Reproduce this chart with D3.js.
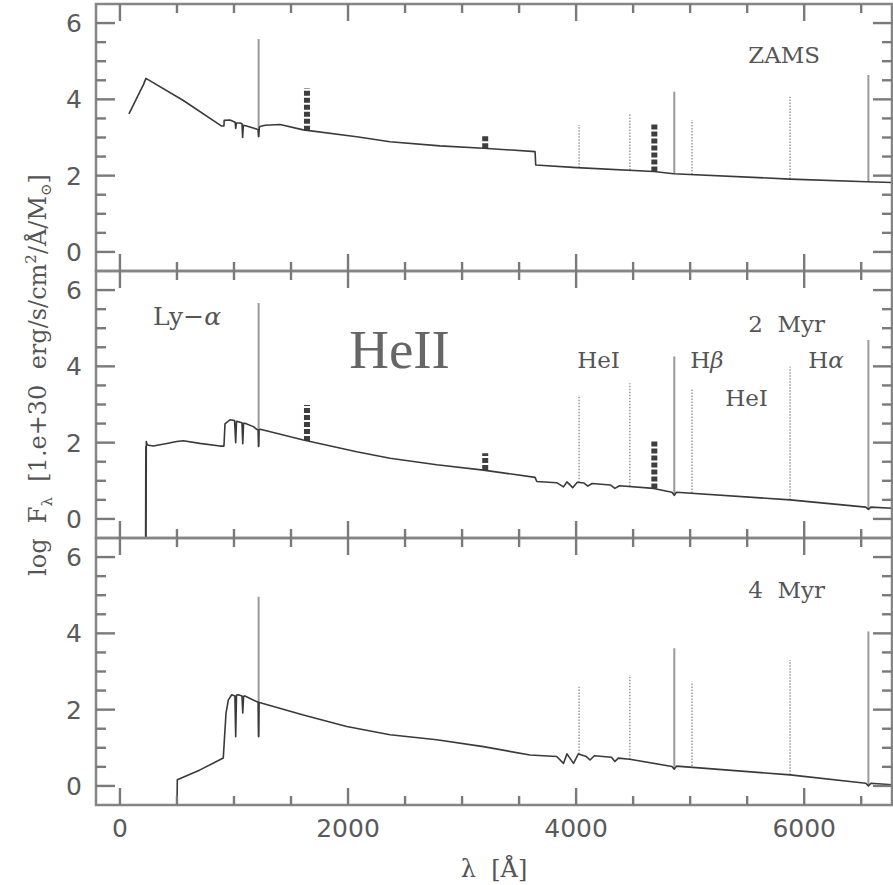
<!DOCTYPE html>
<html>
<head>
<meta charset="utf-8">
<script src="https://cdn.jsdelivr.net/npm/d3@7"></script>
<style>
  body { margin: 0; background: #fff; }
</style>
</head>
<body>
<script>
// ---- axis ticks -------------------------------------------------------
const xMajorTicks = [0, 2000, 4000, 6000];
const xTickLabels = ["0", "2000", "4000", "6000"];
const xMinorTicks = [500, 1000, 1500, 2500, 3000, 3500, 4500, 5000, 5500, 6500];
const yMajorTicks = [0, 2, 4, 6];
const yTickLabels = ["0", "2", "4", "6"];
const yMinorTicks = [0.5, 1, 1.5, 2.5, 3, 3.5, 4.5, 5, 5.5];

// ---- panels -----------------------------------------------------------
const panelNames = ["ZAMS", "2 Myr", "4 Myr"];

// continuum + absorption, [wavelength (Å), log F]
const zamsSpectrum = [
  [79, 3.62], [117, 3.85], [161, 4.12], [205, 4.38], [228, 4.55], [556, 3.97],
  [892, 3.30], [912, 3.30], [914, 3.45], [965, 3.46], [1010, 3.40], [1015, 3.24],
  [1022, 3.38], [1053, 3.38], [1070, 3.36], [1076, 3.00], [1082, 3.32], [1111, 3.30],
  [1199, 3.22], [1212, 3.20], [1216, 3.02], [1222, 3.26], [1228, 3.29], [1272, 3.32],
  [1404, 3.34], [1608, 3.20], [2076, 3.02], [2368, 2.89], [2807, 2.78], [3187, 2.72],
  [3640, 2.63], [3646, 2.28], [4006, 2.21], [4680, 2.11], [4855, 2.05], [5877, 1.91],
  [6550, 1.84], [6770, 1.82]
];
const myr2Spectrum = [
  [225, -0.6], [227, 1.9], [229, -0.6], [231, 2.03], [240, 1.94], [292, 1.91],
  [400, 1.97], [497, 2.03], [556, 2.05], [700, 1.98], [877, 1.91], [912, 1.91],
  [921, 2.49], [965, 2.60], [1005, 2.58], [1015, 2.00], [1022, 2.56], [1038, 2.55],
  [1070, 2.52], [1077, 1.97], [1084, 2.51], [1096, 2.51], [1170, 2.42], [1199, 2.35],
  [1212, 2.33], [1216, 1.90], [1220, 2.34], [1231, 2.35], [1608, 2.07], [2076, 1.76],
  [2368, 1.59], [2778, 1.42], [3187, 1.28], [3640, 1.09], [3655, 0.98], [3830, 0.95],
  [3889, 0.84], [3920, 0.97], [3970, 0.82], [4010, 0.96], [4070, 0.94], [4102, 0.86],
  [4140, 0.93], [4300, 0.89], [4340, 0.80], [4380, 0.87], [4680, 0.80], [4840, 0.70],
  [4861, 0.62], [4880, 0.70], [5877, 0.50], [6540, 0.31], [6563, 0.25], [6585, 0.31],
  [6770, 0.28]
];
const myr4Spectrum = [
  [500, -0.6], [503, 0.16], [702, 0.42], [906, 0.73], [930, 1.91], [950, 2.25],
  [980, 2.39], [1008, 2.36], [1015, 1.29], [1022, 2.38], [1038, 2.39], [1070, 2.36],
  [1077, 1.91], [1084, 2.35], [1096, 2.36], [1199, 2.21], [1212, 2.20], [1216, 1.29],
  [1220, 2.19], [1231, 2.18], [1608, 1.86], [1989, 1.56], [2368, 1.34], [2778, 1.21],
  [3187, 1.03], [3596, 0.81], [3830, 0.77], [3889, 0.59], [3920, 0.84], [3977, 0.59],
  [4020, 0.84], [4090, 0.77], [4122, 0.68], [4160, 0.79], [4310, 0.75], [4340, 0.64],
  [4370, 0.73], [4471, 0.70], [4840, 0.51], [4861, 0.44], [4880, 0.52], [5877, 0.29],
  [6540, 0.07], [6563, 0.00], [6585, 0.07], [6770, 0.03]
];

// ---- emission lines ---------------------------------------------------
// kinds: "H" hydrogen, "HeI", "HeII"
const lineWavelengths = [1216, 1640, 3203, 4026, 4471, 4686, 4861, 5016, 5876, 6563];
const lineKinds       = ["H", "HeII", "HeII", "HeI", "HeI", "HeII", "H", "HeI", "HeI", "H"];
const zamsLineBase = [3.02, 3.18, 2.72, 2.21, 2.15, 2.11, 2.05, 2.03, 1.91, 1.84];
const zamsLinePeak = [5.58, 4.29, 3.07, 3.33, 3.64, 3.39, 4.20, 3.46, 4.07, 4.64];
const myr2LineBase = [1.90, 2.04, 1.28, 0.96, 0.86, 0.80, 0.62, 0.68, 0.50, 0.25];
const myr2LinePeak = [5.66, 2.99, 1.72, 3.25, 3.56, 2.07, 4.26, 3.40, 3.99, 4.69];
const myr4LineBase = [1.29, null, null, 0.84, 0.70, null, 0.44, 0.52, 0.29, 0.00];
const myr4LinePeak = [4.96, null, null, 2.60, 2.91, null, 3.61, 2.73, 3.30, 4.05];

// ---- annotations (middle panel) --------------------------------------
const noteTexts   = ["Ly−α", "HeI", "Hβ", "HeI", "Hα"];
const noteLambda  = [289, 4009, 5000, 5307, 6035];
const noteLogF    = [5.09, 3.96, 3.96, 2.96, 3.96];
const bigNoteText = "HeII";
const bigNoteLambda = 2010;
const bigNoteLogF = 3.96;
const panelNameLambda = 5509;
const panelNameLogF = [4.96, 4.90, 4.93];

// ---- drawing ----------------------------------------------------------
const W = 893, H = 885;
const frameColor = "#858585";
const textColor = "#555";

const svg = d3.select("body").append("svg")
  .attr("width", W).attr("height", H);

const xScale = d3.scaleLinear().domain([-210, 6770]).range([96, 892]);
const [xLeft, xRight] = xScale.range();
const panelTops = [4, 271, 538];
const panelH = 267;
const yScales = panelTops.map(top =>
  d3.scaleLinear().domain([-0.5, 6.5]).range([top + panelH, top]));

const spectra = [zamsSpectrum, myr2Spectrum, myr4Spectrum];
const bases = [zamsLineBase, myr2LineBase, myr4LineBase];
const peaks = [zamsLinePeak, myr2LinePeak, myr4LinePeak];

const lineStyle = {
  H:    { stroke: "#9a9a9a", width: 2,   dash: null },
  HeI:  { stroke: "#a0a0a0", width: 1.6, dash: "1.5,1.5" },
  HeII: { stroke: "#3e3e3e", width: 6,   dash: "5,2" }
};

function writeWithGreek(sel, str) {
  // Greek letters set in italic, the rest upright
  str.split(/([α-ω])/).filter(s => s.length).forEach(part => {
    const t = sel.append("tspan").text(part);
    if (/[α-ω]/.test(part)) t.style("font-style", "italic");
  });
}

const defs = svg.append("defs");

panelTops.forEach((top, i) => {
  const bottom = top + panelH;
  const y = yScales[i];
  const g = svg.append("g");

  const clipId = "clip" + i;
  defs.append("clipPath").attr("id", clipId)
    .append("rect").attr("x", xLeft).attr("y", top)
    .attr("width", xRight - xLeft).attr("height", panelH);

  const plot = g.append("g").attr("clip-path", `url(#${clipId})`);

  // emission lines
  lineWavelengths.forEach((lam, j) => {
    if (peaks[i][j] == null) return;
    const st = lineStyle[lineKinds[j]];
    plot.append("line")
      .attr("x1", xScale(lam)).attr("x2", xScale(lam))
      .attr("y1", y(bases[i][j])).attr("y2", y(peaks[i][j]))
      .attr("stroke", st.stroke)
      .attr("stroke-width", st.width)
      .attr("stroke-dasharray", st.dash);
  });

  // spectrum
  plot.append("path")
    .datum(spectra[i])
    .attr("fill", "none")
    .attr("stroke", "#3a3a3a")
    .attr("stroke-width", 1.6)
    .attr("stroke-linejoin", "round")
    .attr("d", d3.line().x(d => xScale(d[0])).y(d => y(d[1])));

  // y tick labels
  g.append("g").selectAll("text").data(yMajorTicks).join("text")
    .attr("x", xLeft - 14).attr("y", d => y(d)).attr("dy", "0.36em")
    .attr("text-anchor", "end")
    .attr("fill", "#5a5a5a")
    .style("font-family", "'DejaVu Sans', sans-serif")
    .style("font-size", "25px")
    .text((d, k) => yTickLabels[k]);

  // x tick labels under the last panel
  if (i === panelTops.length - 1) {
    g.append("g").selectAll("text").data(xMajorTicks).join("text")
      .attr("x", d => xScale(d)).attr("y", bottom + 14).attr("dy", "0.72em")
      .attr("text-anchor", "middle")
      .attr("fill", "#5a5a5a")
      .style("font-family", "'DejaVu Sans', sans-serif")
      .style("font-size", "25px")
      .text((d, k) => xTickLabels[k]);
  }

  // frame
  g.append("rect")
    .attr("x", xLeft).attr("y", top).attr("width", xRight - xLeft).attr("height", panelH)
    .attr("fill", "none").attr("stroke", frameColor).attr("stroke-width", 2.5);

  // panel name
  g.append("text")
    .attr("x", xScale(panelNameLambda)).attr("y", y(panelNameLogF[i]))
    .attr("fill", textColor)
    .style("font-family", "'DejaVu Serif', serif")
    .style("font-size", "23px")
    .style("white-space", "pre")
    .text(panelNames[i].replace(" ", "  "));

  if (i === 1) {
    noteTexts.forEach((t, k) => {
      const tx = g.append("text")
        .attr("x", xScale(noteLambda[k])).attr("y", y(noteLogF[k]))
        .attr("fill", textColor)
        .style("font-family", "'DejaVu Serif', serif")
        .style("font-size", k === 0 ? "25px" : "23px");
      writeWithGreek(tx, t);
    });
    g.append("text")
      .attr("x", xScale(bigNoteLambda)).attr("y", y(bigNoteLogF))
      .attr("fill", "#666")
      .style("font-family", "'Liberation Serif', serif")
      .style("font-size", "55px")
      .text(bigNoteText);
  }
});

// axis titles
const yTitle = svg.append("text")
  .attr("transform", "translate(46,375) rotate(-90)")
  .attr("text-anchor", "middle")
  .attr("fill", textColor)
  .style("font-family", "'DejaVu Serif', serif")
  .style("font-size", "24px")
  .style("white-space", "pre");
yTitle.append("tspan").text("log  F");
yTitle.append("tspan").text("λ").style("font-size", "15px").attr("dy", 6);
yTitle.append("tspan").text("  [1.e+30  erg/s/cm").attr("dy", -6);
yTitle.append("tspan").text("2").style("font-size", "15px").attr("dy", -10);
yTitle.append("tspan").text("/Å/M").attr("dy", 10);
yTitle.append("tspan").text("⊙").style("font-size", "15px").attr("dy", 5);
yTitle.append("tspan").text("]").attr("dy", -5);

svg.append("text")
  .attr("x", 494).attr("y", 877)
  .attr("text-anchor", "middle")
  .attr("fill", textColor)
  .style("font-family", "'DejaVu Serif', serif")
  .style("font-size", "24px")
  .style("white-space", "pre")
  .text("λ  [Å]");

// inward ticks on all four sides of every panel
panelTops.forEach((top, i) => {
  const bottom = top + panelH;
  const y = yScales[i];
  const tg = svg.append("g");
  const add = (x1, y1, x2, y2) => tg.append("line")
    .attr("x1", x1).attr("y1", y1).attr("x2", x2).attr("y2", y2)
    .attr("stroke", "#7a7a7a").attr("stroke-width", 2.4);
  xMinorTicks.forEach(v => { add(xScale(v), bottom, xScale(v), bottom - 9); add(xScale(v), top, xScale(v), top + 9); });
  xMajorTicks.forEach(v => { add(xScale(v), bottom, xScale(v), bottom - 17); add(xScale(v), top, xScale(v), top + 17); });
  yMinorTicks.forEach(v => { add(xLeft, y(v), xLeft + 10, y(v)); add(xRight, y(v), xRight - 10, y(v)); });
  yMajorTicks.forEach(v => { add(xLeft, y(v), xLeft + 19, y(v)); add(xRight, y(v), xRight - 19, y(v)); });
});
</script>
</body>
</html>
